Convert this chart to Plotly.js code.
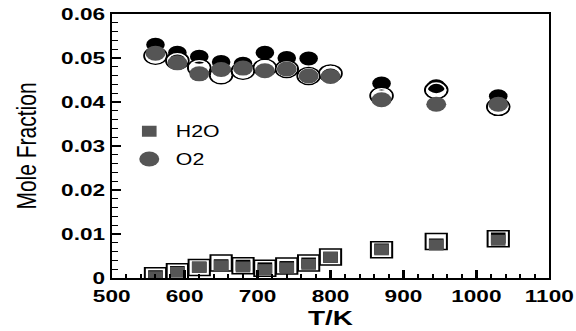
<!DOCTYPE html>
<html>
<head>
<meta charset="utf-8">
<script src="https://cdn.plot.ly/plotly-3.0.1.min.js"></script>
<style>
  html, body { margin: 0; padding: 0; background: #fff; overflow: hidden; }
  #wrap { width: 433px; height: 331px; transform: scaleX(1.33); transform-origin: 0 0; }
</style>
</head>
<body>
<div id="wrap"></div>
<script>
// Temperatures (K)
const temps = [560, 590, 620, 650, 680, 710, 740, 770, 800, 870, 945, 1030];

// O2 mole fractions
const o2Black = [0.0530, 0.0512, 0.0503, 0.0491, 0.0487, 0.0512, 0.0500, 0.0499, 0.0460, 0.0442, 0.0436, 0.0413];
const o2Open  = [0.0505, 0.0494, 0.0478, 0.0461, 0.0471, 0.0478, 0.0475, 0.0459, 0.0465, 0.0414, 0.0427, 0.0389];
const o2Gray  = [0.0511, 0.0489, 0.0464, 0.0474, 0.0477, 0.0471, 0.0475, 0.0459, 0.0458, 0.0405, 0.0395, 0.0395];

// H2O mole fractions
const h2oOpen  = [0.0005, 0.0014, 0.0024, 0.0034, 0.0028, 0.0022, 0.0027, 0.0034, 0.0048, 0.0064, 0.0083, 0.0089];
const h2oBlack = [0.0005, 0.0015, 0.0025, 0.0030, 0.0029, 0.0023, 0.0026, 0.0034, 0.0047, 0.0066, 0.0077, 0.0091];
const h2oGray  = [0.0003, 0.0013, 0.0024, 0.0028, 0.0025, 0.0019, 0.0023, 0.0031, 0.0047, 0.0064, 0.0075, 0.0086];

const GRAY = '#555555';
const FONT = 'Liberation Sans, Arial, Helvetica, sans-serif';

const traces = [
  { x: temps, y: h2oOpen, mode: 'markers', showlegend: false,
    marker: { symbol: 'square', size: 16, color: '#ffffff', line: { color: '#000', width: 1.5 } } },
  { x: temps, y: h2oBlack, mode: 'markers', showlegend: false,
    marker: { symbol: 'square', size: 11, color: '#000000', line: { width: 0 } } },
  { x: temps, y: h2oGray, mode: 'markers', name: 'H2O', legendgroup: 'a',
    marker: { symbol: 'square', size: 11, color: GRAY, line: { width: 0 } } },
  { x: temps, y: o2Black, mode: 'markers', showlegend: false,
    marker: { symbol: 'circle', size: 14, color: '#000000', line: { width: 0 } } },
  { x: temps, y: o2Open, mode: 'markers', showlegend: false,
    marker: { symbol: 'circle-open', size: 17, color: '#000000', line: { color: '#000', width: 1.5 } } },
  { x: temps, y: o2Open, mode: 'markers', showlegend: false,
    marker: { symbol: 'circle-open', size: 14, color: '#ffffff', line: { color: '#fff', width: 1.5 } } },
  { x: temps, y: o2Gray, mode: 'markers', name: 'O2', legendgroup: 'b',
    marker: { symbol: 'circle', size: 15, color: GRAY, line: { width: 0 } } }
];

const layout = {
  width: 433, height: 331,
  margin: { l: 84, r: 20, t: 14, b: 53 },
  paper_bgcolor: '#fff', plot_bgcolor: '#fff',
  font: { family: FONT, color: '#000' },
  showlegend: true,
  legend: {
    x: 0.025, y: 0.62, xanchor: 'left', yanchor: 'top',
    bgcolor: 'rgba(0,0,0,0)', borderwidth: 0,
    font: { family: FONT, size: 16, color: '#000' },
    tracegroupgap: 4
  },
  xaxis: {
    range: [500, 1100], dtick: 100, tick0: 500,
    showgrid: false, zeroline: false,
    showline: true, linecolor: '#000', linewidth: 2, mirror: true,
    ticks: 'inside', ticklen: 8, tickwidth: 2, tickcolor: '#000',
    minor: { dtick: 20, ticks: 'inside', ticklen: 4, tickwidth: 1.5, tickcolor: '#000' },
    tickfont: { family: FONT, size: 17, weight: 'bold', color: '#000' },
    ticklabelstandoff: 2,
    title: { text: 'T/K', font: { family: FONT, size: 21, weight: 'bold', color: '#000' }, standoff: 4 }
  },
  yaxis: {
    range: [0, 0.06], dtick: 0.01, tick0: 0,
    showgrid: false, zeroline: false,
    showline: true, linecolor: '#000', linewidth: 1.6, mirror: true,
    ticks: 'inside', ticklen: 7, tickwidth: 1.5, tickcolor: '#000',
    minor: { dtick: 0.002, ticks: 'inside', ticklen: 4.5, tickwidth: 1.2, tickcolor: '#000' },
    tickfont: { family: FONT, size: 17, weight: 'bold', color: '#000' },
    title: { text: 'Mole Fraction', font: { family: FONT, size: 21, color: '#000' }, standoff: 12 }
  }
};

Plotly.newPlot('wrap', traces, layout, { displayModeBar: false, staticPlot: true });
</script>
</body>
</html>
